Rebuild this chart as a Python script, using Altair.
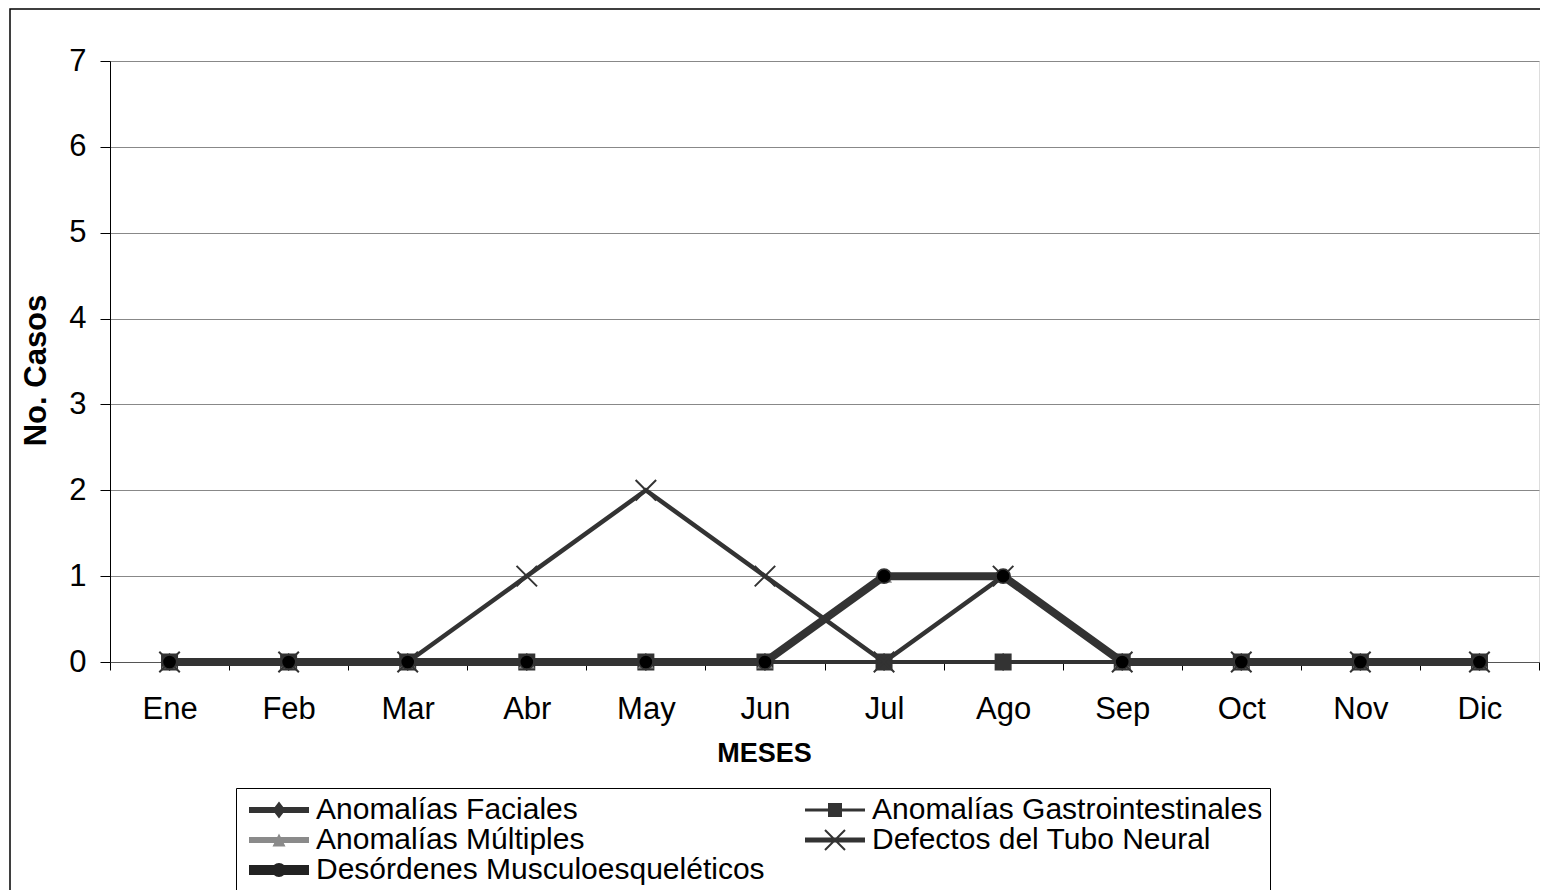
import math
import altair as alt
import pandas as pd

meses = ["Ene", "Feb", "Mar", "Abr", "May", "Jun", "Jul", "Ago", "Sep", "Oct", "Nov", "Dic"]
series = [
    "Anomalías Faciales",
    "Anomalías Gastrointestinales",
    "Anomalías Múltiples",
    "Defectos del Tubo Neural",
    "Desórdenes Musculoesqueléticos",
]
faciales = [0, 0, 0, 0, 0, 0, 0, 0, 0, 0, 0, 0]
gastro = [0, 0, 0, 0, 0, 0, 0, 0, 0, 0, 0, 0]
multiples = [0, 0, 0, 0, 0, 0, 1, 1, 0, 0, 0, 0]
defectos = [0, 0, 0, 1, 2, 1, 0, 1, 0, 0, 0, 0]
musculo = [0, 0, 0, 0, 0, 0, 1, 1, 0, 0, 0, 0]
y_ticks = [0, 1, 2, 3, 4, 5, 6, 7]

rows = []
for s, vals in zip(series, [faciales, gastro, multiples, defectos, musculo]):
    for m, v in zip(meses, vals):
        rows.append({"mes": m, "serie": s, "casos": v})
df = pd.DataFrame(rows)

FONT = "Liberation Sans"

x_enc = alt.X(
    "mes:N", sort=meses, bandPosition=0.5,
    scale=alt.Scale(type="band", domain=meses, paddingInner=0, paddingOuter=0),
    axis=alt.Axis(title="MESES", labelAngle=0, tickBand="extent", grid=False,
                  labelFont=FONT, labelFontSize=31, labelColor="black", labelPadding=24,
                  tickSize=8, tickColor="black", domainColor="#555", domainWidth=1,
                  titleFont=FONT, titleFontSize=27, titleFontWeight="bold",
                  titleColor="black", titlePadding=16, titleX=654),
)
y_enc = alt.Y(
    "casos:Q", scale=alt.Scale(domain=[0, 7], nice=False),
    axis=alt.Axis(title="No. Casos", values=y_ticks, format="d",
                  labelFont=FONT, labelFontSize=31, labelColor="black", labelPadding=14,
                  tickSize=10, tickColor="black", domainColor="black", domainWidth=1,
                  gridColor="#888", gridWidth=1,
                  titleFont=FONT, titleFontSize=31, titleFontWeight="bold",
                  titleColor="black", titlePadding=16, titleY=309),
)

X_PATH = "M-1,-1L1,1M-1,1L1,-1"

styles = {
    "Anomalías Faciales": dict(line="#333", w=4, shape="diamond", size=250, fill="#333", stroke="#333", filled=True),
    "Anomalías Gastrointestinales": dict(line="#333", w=3, shape="square", size=240, fill="#333", stroke="#333", filled=True),
    "Anomalías Múltiples": dict(line="#999", w=4, shape="triangle-up", size=180, fill="#6b6b8c", stroke="#888", filled=True),
    "Defectos del Tubo Neural": dict(line="#333", w=4.5, shape=X_PATH, size=420, fill="#333", stroke="#333", filled=False),
    "Desórdenes Musculoesqueléticos": dict(line="#333", w=8, shape="circle", size=200, fill="black", stroke="#333", filled=True),
}

layers = []
for s in series:
    st = styles[s]
    base = alt.Chart(df).transform_filter(alt.datum.serie == s)
    layers.append(base.mark_line(color=st["line"], strokeWidth=st["w"]).encode(x=x_enc, y=y_enc))
    if st["filled"]:
        pt = base.mark_point(shape=st["shape"], size=st["size"], filled=True,
                             fill=st["fill"], stroke=st["stroke"], strokeWidth=1.5, opacity=1)
    else:
        pt = base.mark_point(shape=st["shape"], size=st["size"], filled=False,
                             stroke=st["stroke"], strokeWidth=2, opacity=1)
    layers.append(pt.encode(x=x_enc, y=y_enc))

# legend symbols: line + marker in one path; 1 unit = R px
R = 10.0
HALF_LINE = 30.0  # px


def bar(t):
    h = t / 2 / R
    L = HALF_LINE / R
    return f"M{-L:.3f},{-h:.3f}H{L:.3f}V{h:.3f}H{-L:.3f}Z"


def diamond(w, h):
    a = w / 2 / R
    b = h / 2 / R
    return f"M0,{-b:.3f}L{a:.3f},0L0,{b:.3f}L{-a:.3f},0Z"


def square(px):
    a = px / 2 / R
    return f"M{-a:.3f},{-a:.3f}H{a:.3f}V{a:.3f}H{-a:.3f}Z"


def triangle(px):
    a = px / 2 / R
    return f"M0,{-a:.3f}L{a:.3f},{a:.3f}L{-a:.3f},{a:.3f}Z"


def circle(px):
    a = px / 2 / R
    return f"M{-a:.3f},0A{a:.3f},{a:.3f} 0 1,1 {a:.3f},0A{a:.3f},{a:.3f} 0 1,1 {-a:.3f},0Z"


def xshape(px, t):
    a = px / 2 / R
    w = t / 2 / R / math.sqrt(2)
    p1 = f"M{-a - w:.3f},{-a + w:.3f}L{-a + w:.3f},{-a - w:.3f}L{a + w:.3f},{a - w:.3f}L{a - w:.3f},{a + w:.3f}Z"
    p2 = f"M{a - w:.3f},{-a - w:.3f}L{a + w:.3f},{-a + w:.3f}L{-a + w:.3f},{a + w:.3f}L{-a - w:.3f},{a - w:.3f}Z"
    return p1 + p2


legend_paths = [
    bar(6) + diamond(13, 17),
    bar(3) + square(14),
    bar(6) + triangle(13),
    bar(5) + xshape(20, 2),
    bar(10) + circle(14),
]
legend_colors = ["#333", "#333", "#8a8a8a", "#333", "#222"]

leg = alt.Legend(
    title=None, orient="none", legendX=126, legendY=727, columns=2, direction="horizontal",
    columnPadding=34, rowPadding=0, symbolSize=R * R * 4, symbolStrokeWidth=0,
    symbolOffset=21, labelOffset=22,
    symbolOpacity=1, labelFont=FONT, labelFontSize=30, labelColor="black",
    labelLimit=0, strokeColor="black", fillColor="white", padding=7,
)
legend_layer = alt.Chart(df).mark_point(filled=True, opacity=0).encode(
    x=x_enc, y=y_enc,
    shape=alt.Shape("serie:N", scale=alt.Scale(domain=series, range=legend_paths), legend=leg),
    color=alt.Color("serie:N", scale=alt.Scale(domain=series, range=legend_colors), legend=leg),
)

frame = alt.Chart(pd.DataFrame({"k": [0]})).mark_rect(
    fillOpacity=0, stroke="black", strokeWidth=1.5
).encode(x=alt.value(-100), x2=alt.value(1500), y=alt.value(-52), y2=alt.value(1000))

chart = alt.layer(frame, *layers, legend_layer).properties(
    width=1429, height=601,
    autosize=alt.AutoSizeParams(type="none"),
    padding={"left": 102, "top": 53, "right": 1, "bottom": 228},
).configure_view(stroke="#888", strokeWidth=1.5).configure(background="white")

chart.save("out.html", embed_options={"renderer": "svg", "actions": False})
